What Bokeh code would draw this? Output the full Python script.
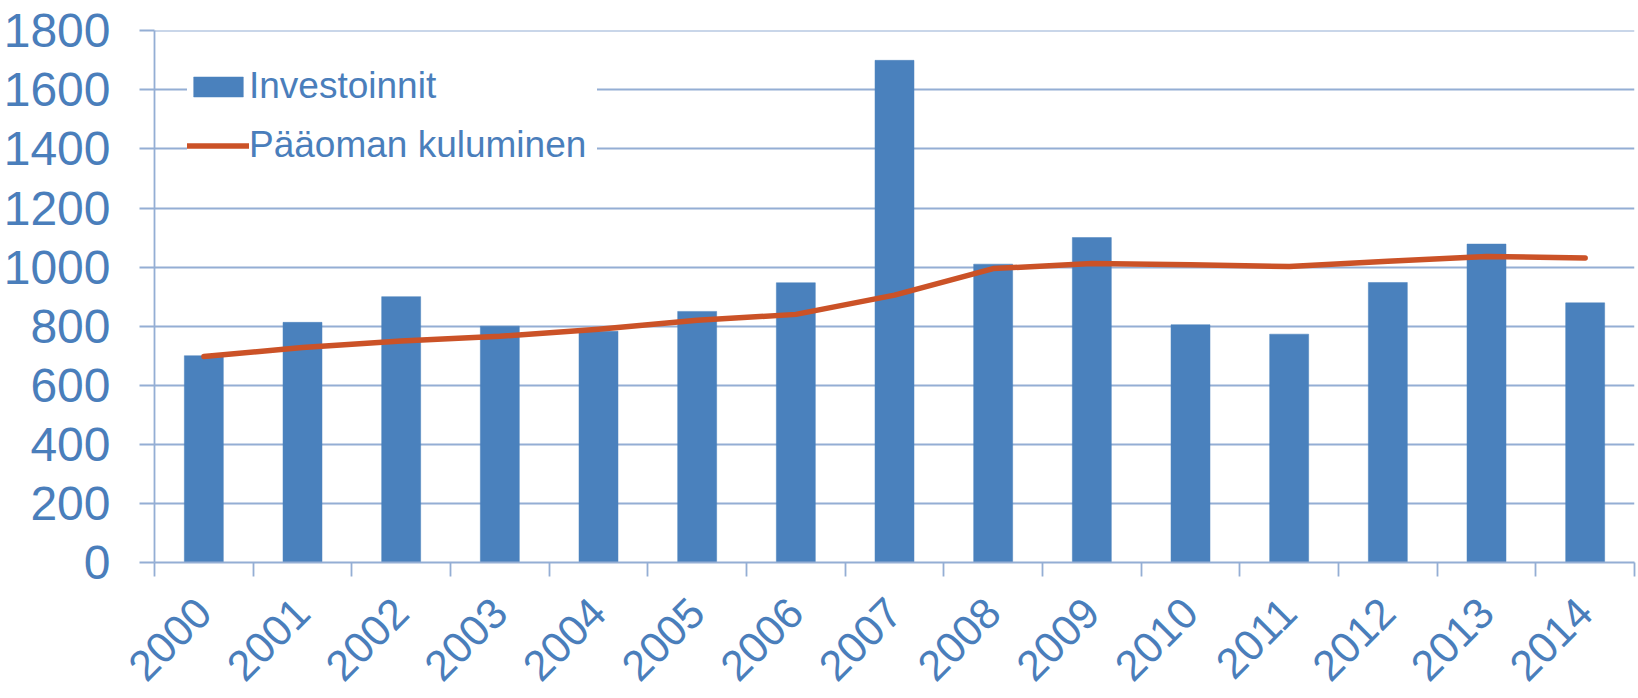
from bokeh.plotting import figure
from bokeh.models import FixedTicker, Legend, LegendItem, ColumnDataSource, Range1d
from bokeh.embed import file_html
from bokeh.resources import INLINE
import math

years = ["2000", "2001", "2002", "2003", "2004", "2005", "2006", "2007",
         "2008", "2009", "2010", "2011", "2012", "2013", "2014"]
investoinnit = [700, 813, 900, 800, 783, 850, 947, 1700, 1010, 1100, 805, 773, 948, 1078, 879]
kuluminen = [697, 728, 750, 766, 790, 820, 840, 905, 995, 1012, 1008, 1002, 1020, 1036, 1031]
y_ticks = [0, 200, 400, 600, 800, 1000, 1200, 1400, 1600, 1800]

FONT = "Liberation Sans"
TEXT = "#4A7EBB"
GRID = "#94AED4"
BAR = "#4A81BD"
LINE = "#CB5227"

xpos = [i + 0.5 for i in range(len(years))]
src = ColumnDataSource(dict(x=xpos, inv=investoinnit, kul=kuluminen))

p = figure(width=1636, height=698, output_backend="svg", toolbar_location=None,
           x_range=Range1d(0, len(years)), y_range=Range1d(0, 1801),
           min_border_left=154, min_border_right=2, min_border_top=30, min_border_bottom=136)
p.outline_line_color = None
p.background_fill_color = "white"

bars = p.vbar(x="x", top="inv", width=0.395, source=src, fill_color=BAR, line_color=BAR, line_width=0.5)
line = p.line(x="x", y="kul", source=src, line_color=LINE, line_width=5.5,
              line_cap="round", line_join="round")

# x axis: labels at category centers, tick marks at category boundaries
p.xaxis.ticker = FixedTicker(ticks=xpos, minor_ticks=list(range(len(years) + 1)))
p.xaxis.major_label_overrides = {x: y for x, y in zip(xpos, years)}
p.xaxis.major_tick_out = 0
p.xaxis.major_tick_in = 0
p.xaxis.minor_tick_out = 14
p.xaxis.minor_tick_in = 0
p.xaxis.minor_tick_line_color = GRID
p.xaxis.minor_tick_line_width = 1.8
p.xaxis.axis_line_color = GRID
p.xaxis.axis_line_width = 1.8
p.xaxis.major_label_orientation = math.pi / 4
p.xaxis.major_label_text_font = FONT
p.xaxis.major_label_text_font_size = "43px"
p.xaxis.major_label_text_color = TEXT
p.xaxis.major_label_standoff = 29

p.yaxis.ticker = FixedTicker(ticks=y_ticks)
p.yaxis.major_tick_out = 15
p.yaxis.major_tick_in = 0
p.yaxis.minor_tick_line_color = None
p.yaxis.major_tick_line_color = GRID
p.yaxis.major_tick_line_width = 1.8
p.yaxis.axis_line_color = GRID
p.yaxis.axis_line_width = 1.8
p.yaxis.major_label_text_font = FONT
p.yaxis.major_label_text_font_size = "48px"
p.yaxis.major_label_text_color = TEXT
p.yaxis.major_label_standoff = 29

p.xgrid.grid_line_color = None
p.ygrid.ticker = FixedTicker(ticks=y_ticks)
p.ygrid.grid_line_color = GRID
p.ygrid.grid_line_width = 1.8

legend = Legend(items=[LegendItem(label="Investoinnit", renderers=[bars]),
                       LegendItem(label="Pääoman kuluminen", renderers=[line])],
                location=(33, 396), orientation="vertical",
                label_text_font=FONT, label_text_font_size="37px", label_text_color=TEXT,
                glyph_width=62, glyph_height=25, label_standoff=0, spacing=17,
                label_width=348, padding=14, margin=0, border_line_color=None,
                background_fill_color="white", background_fill_alpha=1.0)
p.add_layout(legend, "center")

open("out.html", "w").write(file_html(p, INLINE))
